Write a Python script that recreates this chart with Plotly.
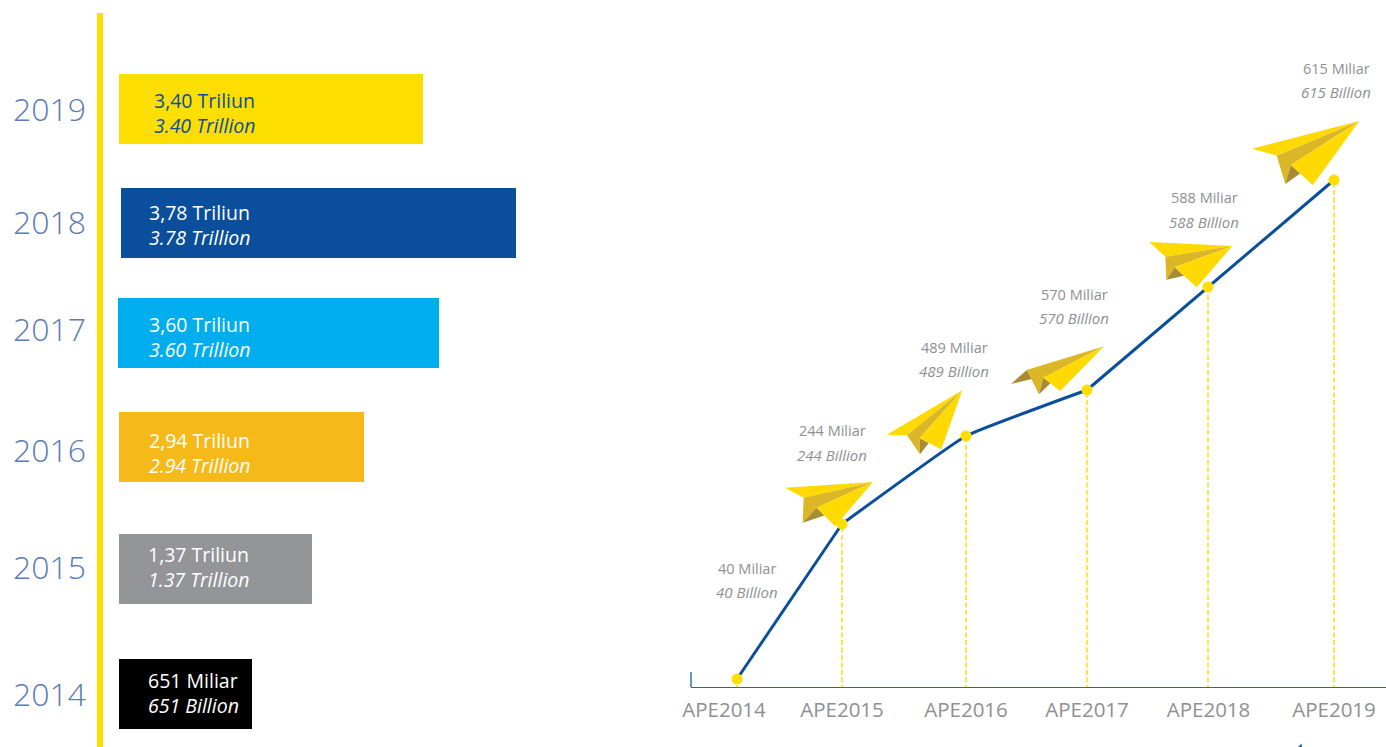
import plotly.graph_objects as go

W, H = 1386, 747

# ---------- left panel: revenue bars ----------
years = ["2019", "2018", "2017", "2016", "2015", "2014"]
bar_lengths = [304, 395, 321, 245, 193, 133]
labels_id = ["3,40 Triliun", "3,78 Triliun", "3,60 Triliun", "2,94 Triliun", "1,37 Triliun", "651 Miliar"]
labels_en = ["3.40 Trillion", "3.78 Trillion", "3.60 Trillion", "2.94 Trillion", "1.37 Trillion", "651 Billion"]
bar_colors = ["#FCDF00", "#0B4F9C", "#00AEEF", "#F5B91A", "#939598", "#000000"]
label_colors = ["#0B4F9C", "#FFFFFF", "#FFFFFF", "#FFFFFF", "#FFFFFF", "#FFFFFF"]

# layout of the rows, in screen pixels
bar_rows = [109, 223, 333, 447, 569, 694]
bar_starts = [119, 121, 118, 119, 119, 119]
year_rows = [110, 223, 330, 451, 568, 695]
label_left = [152, 147, 147, 147, 146, 146]
label_rows = [113, 225, 337, 453, 567, 693]

# ---------- right panel: APE line ----------
ape_labels = ["APE2014", "APE2015", "APE2016", "APE2017", "APE2018", "APE2019"]
ape_heights = [8, 163, 251, 297, 400, 507]
ape_id = ["40 Miliar", "244 Miliar", "489 Miliar", "570 Miliar", "588 Miliar", "615 Miliar"]
ape_en = ["40 Billion", "244 Billion", "489 Billion", "570 Billion", "588 Billion", "615 Billion"]

# layout of the points, in screen pixels
ape_x = [737, 842, 966, 1087, 1208, 1334]
tick_x = [724, 842, 966, 1087, 1208.5, 1334]
val_x = [747, 832, 954, 1074, 1204, 1336]
val_line1 = [568, 431, 347, 294, 198, 68]
val_line2 = [592, 455, 371, 318, 222, 92]

BLUE = "#0B4F9C"
YELLOW = "#FFDE00"
GREY = "#8E9092"
YEAR_BLUE = "#5A7CB8"
FONT = "Open Sans"

fig = go.Figure()

# bars
fig.add_trace(go.Bar(
    orientation="h", y=bar_rows, x=bar_lengths, base=bar_starts, width=70,
    marker=dict(color=bar_colors, line=dict(width=0)),
    xaxis="x", yaxis="y", showlegend=False, hoverinfo="skip",
))

# dashed drop lines
for px, h in zip(ape_x, ape_heights):
    fig.add_trace(go.Scatter(
        x=[px, px], y=[-3, h], mode="lines", xaxis="x2", yaxis="y2",
        line=dict(color=YELLOW, width=1.5, dash="5px,2.5px"),
        showlegend=False, hoverinfo="skip", cliponaxis=False,
    ))

# APE line: straight runs, with the gentle bend around 2016
for a, b, shape in [(0, 2, "linear"), (1, 4, "spline"), (3, 6, "linear")]:
    fig.add_trace(go.Scatter(
        x=ape_x[a:b], y=ape_heights[a:b], mode="lines", xaxis="x2", yaxis="y2",
        line=dict(color=BLUE, width=3, shape=shape, smoothing=0.3 if shape == "spline" else None),
        showlegend=False, hoverinfo="skip", cliponaxis=False,
    ))
fig.add_trace(go.Scatter(
    x=ape_x, y=ape_heights, mode="markers", xaxis="x2", yaxis="y2",
    marker=dict(color=YELLOW, size=11, line=dict(width=0)),
    showlegend=False, hoverinfo="skip", cliponaxis=False,
))


def px_path(points):
    return "M " + " L ".join(f"{x / W:.5f},{1 - y / H:.5f}" for x, y in points) + " Z"


def poly(points, color):
    return dict(type="path", xref="paper", yref="paper", path=px_path(points),
                fillcolor=color, line=dict(width=0), layer="below")


# paper planes: tip, left wing tip, fold, lower body, inner fold, right wing tip, back wing
planes = [
    ((873, 482), (785, 487.7), (803.7, 497.7), (802.7, 522.7), (816.7, 507.7), (835, 526.3), None),
    ((962.3, 390.3), (886.7, 434.7), (907, 435.3), (920, 454.3), (919.7, 438.3), (941.3, 449.3), None),
    ((1104, 346.3), (1011, 384), (1026.7, 370), (1039, 394.3), (1043.3, 377.7), (1060.3, 391), (1031.7, 379)),
    ((1232.3, 246), (1149.3, 242), (1165.3, 256.7), (1166.3, 279.7), (1174.7, 267.3), (1196.7, 287.3), None),
    ((1359.3, 121), (1252, 148.7), (1276.7, 155.7), (1285.3, 184), (1291, 165), (1312.7, 185.3), None),
]
shapes = []
for tip, ltip, fold, low, inner, rb, back in planes:
    dark = (inner[0] + 0.42 * (rb[0] - inner[0]), inner[1] + 0.42 * (rb[1] - inner[1]))
    if back:
        shapes.append(poly([ltip, fold, back], "#A88B33"))
    else:
        shapes.append(poly([tip, ltip, fold], "#FFD900"))
    shapes.append(poly([fold, tip, inner, low], "#DBB728"))
    shapes.append(poly([inner, low, dark], "#A88B33"))
    shapes.append(poly([tip, inner, rb], "#FFD900"))

# short vertical stub at the origin of the line chart
shapes.append(dict(type="line", xref="paper", yref="paper",
                   x0=691 / W, x1=691 / W, y0=1 - 672 / H, y1=1 - 687 / H,
                   line=dict(color="#2F659F", width=1.4)))
# clipped fragment at the bottom edge of the page
shapes.append(poly([(1298, 747), (1301.5, 743.5), (1302, 747)], "#2F659F"))

annotations = []


def note(x, y, text, size, color, anchor, italic=False):
    annotations.append(dict(
        xref="paper", yref="paper", x=x / W, y=1 - y / H, text=text, showarrow=False,
        xanchor=anchor, yanchor="middle", align=anchor,
        font=dict(family=FONT, size=size, color=color, style="italic" if italic else "normal"),
    ))


for i in range(len(years)):
    note(label_left[i], label_rows[i], f"{labels_id[i]}<br><i>{labels_en[i]}</i>", 19.5, label_colors[i], "left")

for i in range(len(ape_labels)):
    note(val_x[i], val_line1[i], ape_id[i], 14.5, GREY, "center")
    note(val_x[i], val_line2[i], ape_en[i], 15, GREY, "center", True)

fig.update_layout(
    template="none",
    width=W, height=H, margin=dict(l=0, r=0, t=0, b=0, pad=0),
    paper_bgcolor="white", plot_bgcolor="rgba(0,0,0,0)",
    showlegend=False, hovermode=False, shapes=shapes, annotations=annotations,
    bargap=0,
    xaxis=dict(domain=[103.3 / W, 530 / W], range=[103.3, 530], visible=False, fixedrange=True,
               automargin=False),
    yaxis=dict(domain=[0, 1 - 13 / H], range=[747, 13], fixedrange=True, showgrid=False, zeroline=False,
               automargin=False,
               showline=True, linecolor=YELLOW, linewidth=5.6, ticks="",
               tickmode="array", tickvals=year_rows, ticktext=years, ticklabelstandoff=5,
               tickfont=dict(family=FONT, size=32, color=YEAR_BLUE, weight=300)),
    xaxis2=dict(domain=[691 / W, 1], range=[691, W], anchor="y2", fixedrange=True, showgrid=False,
                automargin=False,
                zeroline=False, showline=True, linecolor="#2F659F", linewidth=1.4, ticks="",
                tickmode="array", tickvals=tick_x, ticktext=ape_labels, ticklabelstandoff=4,
                tickfont=dict(family=FONT, size=20.5, color=GREY)),
    yaxis2=dict(domain=[60 / H, 1], range=[0, 687], anchor="x2", visible=False, fixedrange=True,
                automargin=False),
)

fig.write_html("out.html", config={"displayModeBar": False},
               post_script="document.body.style.margin='0';document.body.style.overflow='hidden';")
